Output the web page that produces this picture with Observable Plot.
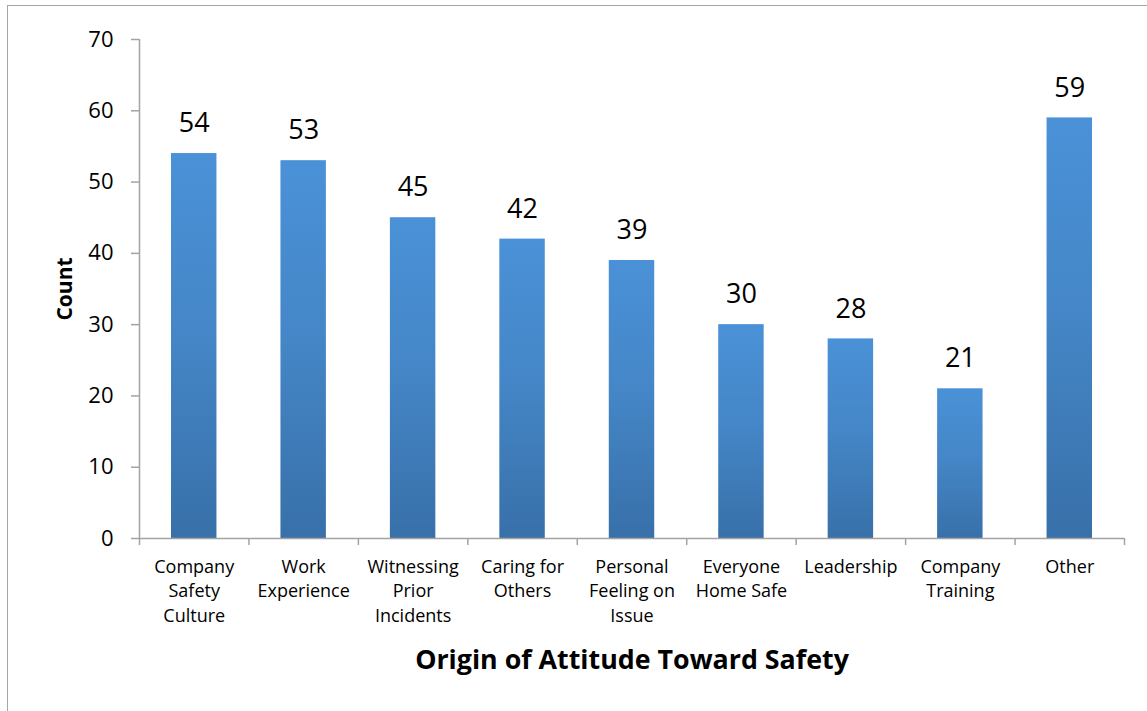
<!DOCTYPE html>
<html>
<head>
<meta charset="utf-8">
<script src="https://cdn.jsdelivr.net/npm/d3@7"></script>
<script src="https://cdn.jsdelivr.net/npm/@observablehq/plot@0.6"></script>
<style>
  html, body { margin: 0; padding: 0; background: #fff; }
  #wrap { position: relative; width: 1147px; height: 711px; overflow: hidden; }
  #border { position: absolute; left: 7px; top: 5px; width: 1200px; height: 800px;
            border: 1px solid #a6a6a6; box-sizing: border-box; }
  #chart { position: absolute; left: 0; top: 0; }
</style>
</head>
<body>
<div id="wrap">
  <div id="border"></div>
  <div id="chart"></div>
</div>
<script>
// Survey responses: where respondents' attitude toward safety comes from
const categories = [
  "Company\nSafety\nCulture",
  "Work\nExperience",
  "Witnessing\nPrior\nIncidents",
  "Caring for\nOthers",
  "Personal\nFeeling on\nIssue",
  "Everyone\nHome Safe",
  "Leadership",
  "Company\nTraining",
  "Other"
];
const counts = [54, 53, 45, 42, 39, 30, 28, 21, 59];
const yTicks = [0, 10, 20, 30, 40, 50, 60, 70];
const xTitle = "Origin of Attitude Toward Safety";
const yTitle = "Count";

// One slot per category on an index scale, so slot boundaries can carry ticks
const rows = categories.map((name, i) => ({name, i, count: counts[i]}));
const slots = d3.range(0, categories.length + 1);

const axisGray = "#a3a3a3";

const chart = Plot.plot({
  width: 1147,
  height: 711,
  marginLeft: 139,
  marginRight: 23,
  marginTop: 39,
  marginBottom: 173,
  style: {fontFamily: "'Open Sans', sans-serif", fontSize: "22px", color: "#000", background: "transparent", overflow: "visible"},
  x: {type: "linear", domain: [0, categories.length], axis: null},
  y: {domain: [0, 70], axis: null},
  marks: [
    Plot.rectY(rows, {
      x1: d => d.i, x2: d => d.i + 1, y: "count",
      insetLeft: 32, insetRight: 32,
      fill: "url(#barFill)",
      style: "filter: drop-shadow(2px 1px 2px rgba(0,0,0,0.28))"
    }),
    Plot.axisY({ticks: yTicks, tickSize: 8, tickPadding: 18, fontSize: 22, stroke: axisGray, strokeWidth: 1.5, label: null}),
    Plot.axisX({ticks: slots, tickSize: 7, tickFormat: () => "", stroke: axisGray, strokeWidth: 1.5, label: null}),
    Plot.ruleX([0], {stroke: axisGray, strokeWidth: 1.5}),
    Plot.ruleY([0], {stroke: axisGray, strokeWidth: 1.5}),
    // value labels above bars
    Plot.text(rows, {x: d => d.i + 0.5, y: "count", text: d => String(d.count), dy: -30, fontSize: 27, fill: "#000"}),
    // category labels below the axis
    Plot.text(rows, {x: d => d.i + 0.5, y: 0, text: "name", lineAnchor: "top", dy: 17, fontSize: 18, lineHeight: 1.36, fill: "#000"}),
    // axis titles
    Plot.text([xTitle], {frameAnchor: "bottom", lineAnchor: "middle", textAnchor: "middle", dy: 122, fontSize: 26.8, fontWeight: "bold", fill: "#000"}),
    Plot.text([yTitle], {frameAnchor: "left", lineAnchor: "middle", textAnchor: "middle", dx: -74, rotate: -90, fontSize: 21, fontWeight: "bold", fill: "#000"})
  ]
});

// vertical gradient used by each bar
const ns = "http://www.w3.org/2000/svg";
const defs = document.createElementNS(ns, "defs");
const grad = document.createElementNS(ns, "linearGradient");
grad.setAttribute("id", "barFill");
grad.setAttribute("x1", "0"); grad.setAttribute("y1", "0");
grad.setAttribute("x2", "0"); grad.setAttribute("y2", "1");
[["0%", "#4a91d7"], ["45%", "#4587c8"], ["100%", "#3870a9"]].forEach(([o, c]) => {
  const s = document.createElementNS(ns, "stop");
  s.setAttribute("offset", o);
  s.setAttribute("stop-color", c);
  grad.appendChild(s);
});
defs.appendChild(grad);
chart.insertBefore(defs, chart.firstChild);

document.getElementById("chart").appendChild(chart);
</script>
</body>
</html>
